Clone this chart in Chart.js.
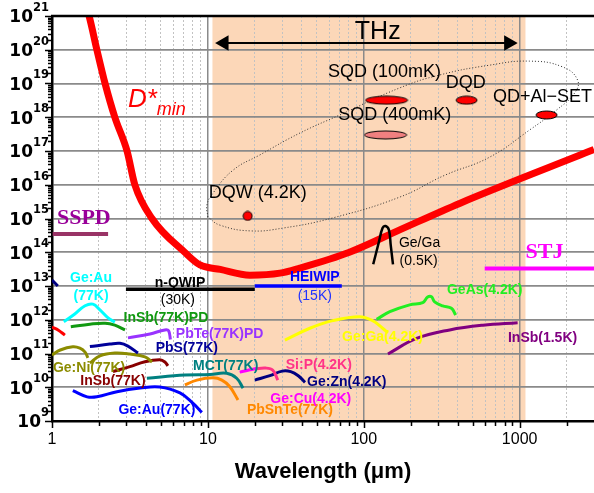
<!DOCTYPE html>
<html>
<head>
<meta charset="utf-8">
<script src="https://cdn.jsdelivr.net/npm/chart.js@4/dist/chart.umd.min.js"></script>
<style>html,body{margin:0;padding:0;background:#fff}</style>
</head>
<body>
<div style="width:594px;height:493px"><canvas id="c" width="594" height="493"></canvas></div>
<script>
// [wavelength in um, D*] pairs
const dStarMin = [[1.6,3e21],[1.73,1e21],[1.94,1e20],[2.19,1e19],[2.53,1e18],[3.03,1e17],[3.4,1e16],[4.38,1e15],[7.1,1e14],[8.9,4.2e13],[12,3.1e13],[18.6,2.1e13],[29,2.4e13],[38.9,3.4e13],[81,1e14],[170,4.6e14],[412,2.8e15],[3000,1.1e17]];
const navyEdge = [[1.0,1.5e13],[1.09,1.0e13]];
const redNir = [[1.0,6.1e11],[1.1,4.9e11],[1.21,3.5e11]];
const geAu77Cyan = [[1.19,8.7e11],[1.40,1.48e12],[1.63,2.6e12],[1.83,2.9e12],[2.03,1.96e12],[2.29,1.13e12],[2.53,8.5e11]];
const insb77PD = [[1.32,6.2e11],[1.75,7.4e11],[2.19,7.9e11],[2.53,6.9e11],[2.94,5.0e11]];
const pbte77PD = [[3.07,2.9e11],[4.25,3.8e11],[5.3,5.0e11],[5.6,4.7e11],[5.75,2.6e11]];
const pbs77 = [[1.75,1.6e11],[2.35,1.9e11],[2.73,2.0e11],[3.07,1.66e11],[3.56,1.03e11]];
const geNi77a = [[1.0,9.1e10],[1.13,1.27e11],[1.36,1.58e11],[1.51,1.44e11],[1.63,1.1e11],[1.70,7.4e10]];
const geNi77b = [[1.75,5.2e10],[2.03,8.5e10],[2.53,1.03e11],[3.16,9.6e10],[3.95,7.9e10],[4.38,5.6e10]];
const insb77 = [[2.46,2.9e10],[3.16,4.1e10],[3.95,5.7e10],[4.92,6.5e10],[5.3,5.6e10],[5.54,4.3e10]];
const geAu77Blue = [[1.36,7.9e9],[1.68,5.2e9],[1.94,5.2e9],[2.61,7.4e9],[3.67,9.5e9],[4.92,1.02e10],[6.62,6.8e9],[8.01,3.4e9],[9.15,1.8e9]];
const mct77 = [[4.06,1.85e10],[7.12,2.3e10],[10.3,2.4e10],[13.2,2.6e10],[15.3,1.85e10],[16.8,9.4e9]];
const pbsnte77 = [[7.12,1.17e10],[8.5,1.63e10],[10.8,1.9e10],[12.3,1.63e10],[13.8,1.05e10],[15.6,4.2e9]];
const geCu42 = [[16.0,2.8e10],[18.6,3.3e10],[20.5,3.6e10]];
const siP42 = [[20.0,3.5e10],[23.5,3.7e10],[26.1,3.2e10],[28.1,1.63e10]];
const geZn42 = [[20.0,1.63e10],[25.0,2.2e10],[30,3.0e10],[34,2.9e10],[38,2.2e10],[42,1.4e10]];
const geGa42 = [[31.2,2.5e11],[45.1,5.6e11],[63.2,9.4e11],[94.2,1.23e12],[114,9.4e11],[132,5.6e11],[143,4.1e11]];
const geAs42 = [[121,1.03e12],[147,1.73e12],[197,2.76e12],[239,3.2e12],[257,4.7e12],[272,4.8e12],[285,3.4e12],[321,2.57e12],[365,2.2e12],[389,1.38e12]];
const insb15 = [[143,9.7e10],[218,2.8e11],[356,5.0e11],[582,6.9e11],[971,8.2e11]];
const nQwip = [[2.98,8.0e12],[20.0,8.0e12]];
const heiwip = [[20.0,1.0e13],[72.3,1.0e13]];
const sspd = [[1.01,3.5e14],[2.29,3.5e14]];
const stj = [[597,3.3e13],[3000,3.3e13]];
const geGa05 = [[115,4.4e13],[125,2.0e14],[132,5.2e14],[138,6.0e14],[145,4.6e14],[149,1.6e14],[154,4.4e13]];
const qdLoop = [[10.0,1.1e15],[9.86,2.5e15],[10.8,5.7e15],[14.5,2.7e16],[21.5,7.6e16],[38.9,3.4e17],[70.2,1.17e18],[170,7.4e18],[307,1.79e19],[643,3.5e19],[1159,4.6e19],[1888,3.1e19],[2353,1.27e19],[2252,5.2e18],[1726,1.64e18],[1159,4.2e17],[643,6.6e16],[330,1.9e16],[170,4.3e15],[63.2,1.04e15],[30.3,5.2e14],[18.6,4.3e14],[11.9,6.4e14],[10.0,1.1e15]];
// quantum dot detectors: SQD 100mK, SQD 400mK, DQD, QD+Al-SET, DQW
const markerWl = [140, 138, 457, 1490, 18.0];
const markerD = [3.2e18, 3.0e17, 3.2e18, 1.17e18, 1.19e15];
const thzBand = [10.7, 1090];
const thzArrow = [[12.7,1.58e20],[850,1.58e20]];
const xGrid = [1,2,3,4,5,6,7,8,9,10,20,30,40,50,60,70,80,90,100,200,300,400,500,600,700,800,900,1000,2000];
const xLabels = [1,10,100,1000];
const yDecades = [9,10,11,12,13,14,15,16,17,18,19,20,21];

const FONT = "'Liberation Sans', Arial, sans-serif";
// text, wavelength, D*, colour, font
const notes = [
  ['Ge:Au', 1.78, 1.73e13, '#00ffff', 'bold 14px'],
  ['(77K)', 1.78, 5.0e12, '#00ffff', 'bold 14px'],
  ['InSb(77K)PD', 5.38, 1.13e12, '#119911', 'bold 14px'],
  ['PbTe(77K)PD', 11.9, 3.8e11, '#9933ff', 'bold 14px'],
  ['PbS(77K)', 7.33, 1.45e11, '#000099', 'bold 14px'],
  ['Ge:Ni(77K)', 1.73, 3.7e10, '#8c8c00', 'bold 14px'],
  ['InSb(77K)', 2.46, 1.54e10, '#880000', 'bold 14px'],
  ['Ge:Au(77K)', 4.71, 2.1e9, '#0000ff', 'bold 14px'],
  ['MCT(77K)', 13.0, 4.3e10, '#008080', 'bold 14px'],
  ['PbSnTe(77K)', 33.6, 2.1e9, '#ff8800', 'bold 14px'],
  ['Si:P(4.2K)', 51.5, 4.6e10, '#ff3388', 'bold 14px'],
  ['Ge:Zn(4.2K)', 77.8, 1.44e10, '#000080', 'bold 14px'],
  ['Ge:Cu(4.2K)', 45.7, 4.5e9, '#ff00ff', 'bold 14px'],
  ['Ge:Ga(4.2K)', 132, 3.1e11, '#ffff00', 'bold 14px'],
  ['GeAs(4.2K)', 597, 7.6e12, '#22ee22', 'bold 14px'],
  ['InSb(1.5K)', 1403, 2.9e11, '#800080', 'bold 14px'],
  ['n-QWIP', 6.62, 1.23e13, '#000000', 'bold 14px'],
  ['(30K)', 6.42, 3.8e12, '#000000', '14px'],
  ['HEIWIP', 48.5, 1.85e13, '#0000ff', 'bold 14px'],
  ['(15K)', 48.5, 5.0e12, '#2233ff', '14px'],
  ['Ge/Ga', 228, 1.88e14, '#000000', '14px'],
  ['(0.5K)', 225, 5.5e13, '#000000', '14px'],
  ['SQD (100mK)', 136, 2.2e19, '#000000', '18px'],
  ['SQD (400mK)', 158, 1.17e18, '#000000', '18px'],
  ['DQD', 451, 1.03e19, '#000000', '18px'],
  ['QD+Al\u2212SET', 1403, 4.0e18, '#000000', '18px'],
  ['DQW (4.2K)', 20.9, 5.7e15, '#000000', '18px'],
  ['THz', 123, 3.4e20, '#000000', '25px'],
];
const serifNotes = [
  ['SSPD', 1.60, 1.03e15, '#990099'],
  ['STJ', 1445, 1.02e14, '#ff00ff'],
];

const pts = a => a.map(([x, y]) => ({x, y}));
const isDecade = v => Math.abs(Math.log10(v) - Math.round(Math.log10(v))) < 1e-9;

function ellipseImg(w, h, fill) {
  const c = document.createElement('canvas');
  c.width = w + 2; c.height = h + 2;
  const g = c.getContext('2d');
  g.beginPath();
  g.ellipse((w + 2) / 2, (h + 2) / 2, w / 2, h / 2, 0, 0, Math.PI * 2);
  g.fillStyle = fill; g.fill();
  g.lineWidth = 1; g.strokeStyle = '#000'; g.stroke();
  return c;
}

function curve(data, color, width, extra) {
  return Object.assign({
    data: pts(data), showLine: true, borderColor: color, borderWidth: width,
    pointRadius: 0, tension: 0.4, fill: false
  }, extra || {});
}

const datasets = [
  {
    data: markerWl.map((x, i) => ({x, y: markerD[i]})),
    pointStyle: [ellipseImg(42, 8, '#ff0000'), ellipseImg(42, 8, '#f08080'), ellipseImg(21, 8, '#ff0000'), ellipseImg(21, 8, '#ff0000'), ellipseImg(9, 9, '#ff0000')],
    pointRadius: 5, showLine: false
  },
  curve(thzArrow, '#000', 2, {pointRadius: 7, pointStyle: 'triangle', pointRotation: [-90, 90], pointBackgroundColor: '#000', pointBorderColor: '#000', tension: 0}),
  curve(geGa05, '#000', 2.5),
  curve(dStarMin, '#ff0000', 7, {tension: 0, cubicInterpolationMode: 'monotone'}),
  curve(qdLoop, '#333', 1, {borderDash: [1, 2], tension: 0.45}),
  curve(sspd, '#993366', 4, {tension: 0}),
  curve(stj, '#ff00ff', 4, {tension: 0}),
  curve(nQwip, '#000', 3.5, {tension: 0}),
  curve(heiwip, '#0000ff', 3.5, {tension: 0}),
  curve(navyEdge, '#000080', 3),
  curve(redNir, '#ff0000', 3),
  curve(geAu77Cyan, '#00ffff', 3),
  curve(insb77PD, '#119911', 3),
  curve(pbte77PD, '#9933ff', 3),
  curve(pbs77, '#000099', 3),
  curve(geNi77a, '#8c8c00', 3),
  curve(geNi77b, '#8c8c00', 3),
  curve(insb77, '#880000', 3),
  curve(geAu77Blue, '#0000ff', 3),
  curve(mct77, '#008080', 3),
  curve(pbsnte77, '#ff8800', 3),
  curve(geCu42, '#ff00ff', 3),
  curve(siP42, '#ff3388', 3),
  curve(geZn42, '#000080', 3),
  curve(geGa42, '#ffff00', 3),
  curve(geAs42, '#22ee22', 3),
  curve(insb15, '#800080', 3),
];

const bandPlugin = {
  id: 'band',
  beforeDraw(chart) {
    const {ctx, chartArea: a, scales: {x}} = chart;
    const x0 = x.getPixelForValue(thzBand[0]), x1 = x.getPixelForValue(thzBand[1]);
    ctx.save();
    ctx.fillStyle = '#fcd7b8';
    ctx.fillRect(x0, a.top, x1 - x0, a.bottom - a.top);
    ctx.restore();
  }
};

const overlayPlugin = {
  id: 'overlay',
  afterDraw(chart) {
    const {ctx, chartArea: a, scales: {x, y}} = chart;
    ctx.save();
    // top frame
    ctx.strokeStyle = '#000'; ctx.lineWidth = 2.5;
    ctx.beginPath(); ctx.moveTo(a.left - 1, a.top); ctx.lineTo(a.right, a.top); ctx.stroke();
    // tick marks
    ctx.lineWidth = 1.5;
    ctx.beginPath();
    for (const e of yDecades) {
      for (let k = 1; k <= 9; k++) {
        const v = k * Math.pow(10, e);
        if (v > 1e21 * 1.0001) break;
        const py = Math.round(y.getPixelForValue(v)) + 0.5;
        const len = k === 1 ? 7 : 4;
        ctx.moveTo(a.left - len, py); ctx.lineTo(a.left, py);
      }
    }
    for (const v of xGrid) {
      const px = Math.round(x.getPixelForValue(v)) + 0.5;
      const len = isDecade(v) ? 7 : 5;
      ctx.moveTo(px, a.bottom); ctx.lineTo(px, a.bottom + len);
    }
    ctx.stroke();
    // y tick labels 10^n
    ctx.fillStyle = '#000';
    ctx.textBaseline = 'middle';
    for (const e of yDecades) {
      const py = y.getPixelForValue(Math.pow(10, e));
      ctx.font = "bold 17px 'DejaVu Sans', sans-serif";
      const w10 = ctx.measureText('10').width;
      ctx.font = "bold 11.5px 'DejaVu Sans', sans-serif";
      const we = ctx.measureText(String(e)).width;
      const start = a.left - 3 - w10 - we;
      ctx.textAlign = 'left';
      ctx.font = "bold 17px 'DejaVu Sans', sans-serif";
      ctx.fillText('10', start, py + 2);
      ctx.font = "bold 11.5px 'DejaVu Sans', sans-serif";
      ctx.fillText(String(e), start + w10, py - 8);
    }
    // x tick labels
    ctx.textAlign = 'center';
    ctx.font = '16px ' + FONT;
    for (const v of xLabels) ctx.fillText(String(v), x.getPixelForValue(v), a.bottom + 19);
    ctx.font = 'bold 22px ' + FONT;
    ctx.fillText('Wavelength (\u03bcm)', (a.left + a.right) / 2, a.bottom + 51);
    // annotations
    for (const [t, vx, vy, c, f] of notes) {
      ctx.font = f + ' ' + FONT;
      ctx.fillStyle = c;
      ctx.fillText(t, x.getPixelForValue(vx), y.getPixelForValue(vy));
    }
    for (const [t, vx, vy, c] of serifNotes) {
      ctx.font = "bold 22px 'Liberation Serif', 'Times New Roman', serif";
      ctx.fillStyle = c;
      ctx.fillText(t, x.getPixelForValue(vx), y.getPixelForValue(vy));
    }
    // D*min label
    const lx = x.getPixelForValue(3.07), ly = y.getPixelForValue(2.0e18);
    ctx.textAlign = 'left'; ctx.textBaseline = 'alphabetic';
    ctx.fillStyle = '#ff0000';
    ctx.font = 'italic 26px ' + FONT;
    ctx.fillText('D*', lx, ly);
    const wd = ctx.measureText('D*').width;
    ctx.font = 'italic 18px ' + FONT;
    ctx.fillText('min', lx + wd, ly + 8);
    ctx.restore();
  }
};

new Chart(document.getElementById('c'), {
  type: 'scatter',
  data: {datasets},
  options: {
    responsive: false,
    animation: false,
    events: [],
    layout: {autoPadding: false, padding: {top: 16, right: 0, left: 0, bottom: 0}},
    plugins: {legend: {display: false}, tooltip: {enabled: false}},
    scales: {
      x: {
        type: 'logarithmic', min: 1, max: 3000,
        afterBuildTicks: s => { s.ticks = xGrid.map(v => ({value: v})); },
        afterFit: s => { s.height = 72; },
        ticks: {display: false},
        grid: {
          drawTicks: false,
          color: c => c.tick && isDecade(c.tick.value) ? '#8a8a8a' : '#c2c2c2',
          lineWidth: c => c.tick && isDecade(c.tick.value) ? 1.5 : 1
        },
        border: {color: '#000', width: 2.5, dash: c => (c.tick && !isDecade(c.tick.value)) ? [2, 2] : []}
      },
      y: {
        type: 'logarithmic', min: 1e9, max: 1e21,
        afterBuildTicks: s => { s.ticks = yDecades.map(e => ({value: Math.pow(10, e)})); },
        afterFit: s => { s.width = 52; },
        ticks: {display: false},
        grid: {drawTicks: false, color: '#8a8a8a', lineWidth: 1.8},
        border: {color: '#000', width: 2.5}
      }
    }
  },
  plugins: [bandPlugin, overlayPlugin]
});
</script>
</body>
</html>
